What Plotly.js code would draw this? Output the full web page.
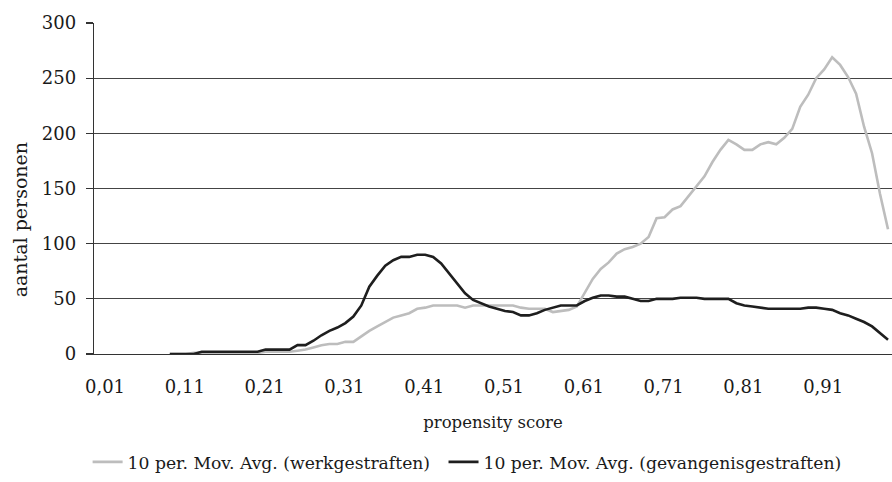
<!DOCTYPE html>
<html>
<head>
<meta charset="utf-8">
<script src="https://cdn.plot.ly/plotly-3.0.1.min.js"></script>
<style>html,body{margin:0;padding:0;background:#fff;}#chart{width:892px;height:482px;}</style>
</head>
<body>
<div id="chart"></div>
<script>
const categories = ["0,01","0,02","0,03","0,04","0,05","0,06","0,07","0,08","0,09","0,10",
"0,11","0,12","0,13","0,14","0,15","0,16","0,17","0,18","0,19","0,20",
"0,21","0,22","0,23","0,24","0,25","0,26","0,27","0,28","0,29","0,30",
"0,31","0,32","0,33","0,34","0,35","0,36","0,37","0,38","0,39","0,40",
"0,41","0,42","0,43","0,44","0,45","0,46","0,47","0,48","0,49","0,50",
"0,51","0,52","0,53","0,54","0,55","0,56","0,57","0,58","0,59","0,60",
"0,61","0,62","0,63","0,64","0,65","0,66","0,67","0,68","0,69","0,70",
"0,71","0,72","0,73","0,74","0,75","0,76","0,77","0,78","0,79","0,80",
"0,81","0,82","0,83","0,84","0,85","0,86","0,87","0,88","0,89","0,90",
"0,91","0,92","0,93","0,94","0,95","0,96","0,97","0,98","0,99","1,00"];

const tickLabels = ["0,01","0,11","0,21","0,31","0,41","0,51","0,61","0,71","0,81","0,91"];

// 10 per. Mov. Avg. (werkgestraften)
const werkgestraften = [null,null,null,null,null,null,null,null,null,0,
0,0,1,1,1,1,1,1,1,1,
1,2,2,2,2,3,4,6,8,9,
9,11,11,16,21,25,29,33,35,37,
41,42,44,44,44,44,42,44,44,44,
44,44,44,42,41,41,41,38,39,40,
43,56,68,77,83,91,95,97,100,106,
123,124,131,134,143,153,161,174,185,194,
190,185,185,190,192,190,196,204,224,235,
250,258,269,262,251,236,206,182,145,113];

// 10 per. Mov. Avg. (gevangenisgestraften)
const gevangenisgestraften = [null,null,null,null,null,null,null,null,null,0,
0,0,0,2,2,2,2,2,2,2,
2,4,4,4,4,8,8,12,17,21,
24,28,34,44,61,71,80,85,88,88,
90,90,88,82,73,64,55,49,46,43,
41,39,38,35,35,37,40,42,44,44,
44,48,51,53,53,52,52,50,48,48,
50,50,50,51,51,51,50,50,50,50,
46,44,43,42,41,41,41,41,41,42,
42,41,40,37,35,32,29,25,19,13];

const yTitle = "aantal personen";
const xTitle = "propensity score";

const fontFam = "DejaVu Serif, serif";

const traces = [
  {x: categories, y: werkgestraften, type: "scatter", mode: "lines",
   name: "10 per. Mov. Avg. (werkgestraften)", legend: "legend",
   line: {color: "#bdbdbd", width: 2.6}},
  {x: categories, y: gevangenisgestraften, type: "scatter", mode: "lines",
   name: "10 per. Mov. Avg. (gevangenisgestraften)", legend: "legend2",
   line: {color: "#1e1e1e", width: 2.6}}
];

const legendFont = {family: fontFam, size: 17.2, color: "#1a1a1a"};

const layout = {
  width: 892, height: 482,
  margin: {l: 94, r: 0, t: 23, b: 128.3},
  paper_bgcolor: "#fff", plot_bgcolor: "#fff",
  font: {family: fontFam, color: "#1a1a1a", size: 16.5},
  showlegend: true,
  legend: {orientation: "h", x: -0.008, xanchor: "left", y: -0.327, yanchor: "middle",
           font: legendFont},
  legend2: {orientation: "h", x: 0.438, xanchor: "left", y: -0.327, yanchor: "middle",
           font: legendFont},
  xaxis: {
    type: "category", categoryorder: "array", categoryarray: categories,
    range: [-0.5, 99.5],
    tickmode: "array", tickvals: tickLabels, ticktext: tickLabels,
    ticks: "", showgrid: false, zeroline: false,
    showline: true, linecolor: "#333", linewidth: 1.3,
    tickfont: {family: fontFam, size: 18, color: "#1a1a1a"},
    ticklabelstandoff: 16,
    ticklabelshift: 7,
    title: {text: xTitle, font: {family: fontFam, size: 16.5, color: "#1a1a1a"}, standoff: 20}
  },
  yaxis: {
    range: [0, 300], tickvals: [0,50,100,150,200,250,300],
    ticks: "outside", ticklen: 7, tickcolor: "#333", tickwidth: 1.3,
    showgrid: true, gridcolor: "#444", gridwidth: 1.3,
    zeroline: false,
    showline: true, linecolor: "#333", linewidth: 1.3,
    tickfont: {family: fontFam, size: 18, color: "#1a1a1a"},
    ticklabelstandoff: 6
  },
  annotations: [{
    text: yTitle, xref: "paper", yref: "paper",
    x: -0.0927, y: 0.404, xanchor: "center", yanchor: "middle",
    textangle: -90, showarrow: false,
    font: {family: fontFam, size: 19, color: "#1a1a1a"}
  }]
};

Plotly.newPlot("chart", traces, layout, {displayModeBar: false, staticPlot: true});
</script>
</body>
</html>
